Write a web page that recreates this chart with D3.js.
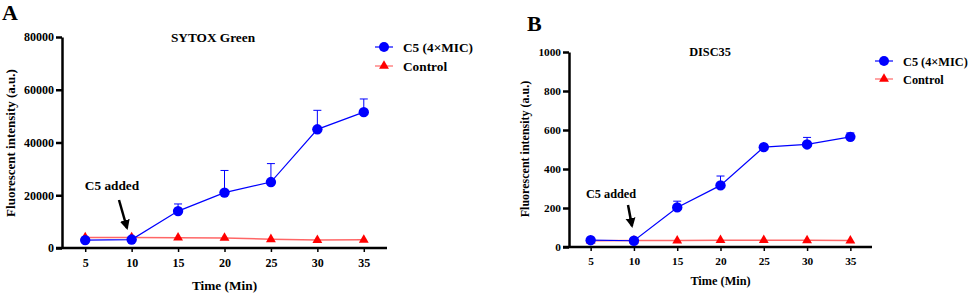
<!DOCTYPE html>
<html>
<head>
<meta charset="utf-8">
<script src="https://cdn.jsdelivr.net/npm/d3@7"></script>
<style>
  body { margin: 0; background: #ffffff; }
  svg text { font-family: "Liberation Serif", "Times New Roman", serif; font-weight: bold; fill: #000; }
</style>
</head>
<body>
<svg width="969" height="293"></svg>
<script>
// Data
const times = [5, 10, 15, 20, 25, 30, 35];
const xTicks = [5, 10, 15, 20, 25, 30, 35];

const sytoxC5 = [3000, 3200, 14000, 21000, 25000, 45000, 51500];
const sytoxC5Err = [300, 300, 2700, 8400, 7000, 7200, 5000];
const sytoxControl = [4000, 4000, 3900, 3800, 3300, 3000, 3100];
const sytoxTicks = [0, 20000, 40000, 60000, 80000];

const discC5 = [35, 32, 203, 316, 512, 526, 565];
const discC5Err = [3, 3, 32, 48, 4, 36, 20];
const discControl = [32, 33, 33, 35, 35, 34, 33];
const discTicks = [0, 200, 400, 600, 800, 1000];

const seriesNames = ["C5 (4\u00d7MIC)", "Control"];
const blue = "#0000ff", red = "#ff0000";

const svg = d3.select("svg");

// arrow head marker
svg.append("defs").append("marker")
    .attr("id", "arrowhead")
    .attr("viewBox", "0 0 10 10")
    .attr("refX", 8).attr("refY", 5)
    .attr("markerWidth", 4).attr("markerHeight", 5)
    .attr("markerUnits", "strokeWidth")
    .attr("orient", "auto")
  .append("path")
    .attr("d", "M0,0 L10,5 L0,10 z")
    .attr("fill", "#000");

function drawPanel(p) {
    const x = d3.scaleLinear().domain([2.5, 37.5]).range([p.left, p.right]);
    const y = d3.scaleLinear().domain([0, p.yMax]).range([p.bottom, p.top]);
    const fs = p.fs; // base font size for this panel

    // panel letter
    svg.append("text")
        .attr("x", p.letterX).attr("y", p.letterY)
        .style("font-size", "22px")
        .text(p.letter);

    // title
    svg.append("text")
        .attr("x", p.titleX).attr("y", p.titleY)
        .attr("text-anchor", "middle")
        .style("font-size", fs + "px")
        .text(p.title);

    // y axis
    const yAxis = svg.append("g")
        .attr("transform", `translate(${p.left},0)`)
        .call(d3.axisLeft(y).tickValues(p.yTicks).tickFormat(d3.format("d")).tickSize(6).tickSizeOuter(0));
    yAxis.select(".domain").attr("stroke-width", 2.5).attr("stroke", "#000");
    yAxis.selectAll(".tick line").attr("stroke-width", 2.5).attr("stroke", "#000");
    yAxis.selectAll(".tick text")
        .attr("x", -8)
        .style("font-family", '"Liberation Serif", serif')
        .style("font-weight", "bold")
        .style("font-size", p.tickFs + "px");

    // x axis
    const xAxis = svg.append("g")
        .attr("transform", `translate(0,${p.bottom})`)
        .call(d3.axisBottom(x).tickValues(xTicks).tickSize(4).tickSizeOuter(0));
    xAxis.select(".domain").attr("stroke-width", 2.5).attr("stroke", "#000")
        .attr("d", `M${p.left - 6},0H${p.right}`);
    xAxis.selectAll(".tick line").attr("stroke-width", 1.5).attr("stroke", "#000");
    xAxis.selectAll(".tick text")
        .attr("y", 10)
        .style("font-family", '"Liberation Serif", serif')
        .style("font-weight", "bold")
        .style("font-size", p.tickFs + "px");

    // axis titles
    svg.append("text")
        .attr("x", (p.left + p.right) / 2)
        .attr("y", p.xTitleY)
        .attr("text-anchor", "middle")
        .style("font-size", fs + "px")
        .text("Time (Min)");

    svg.append("text")
        .attr("transform", `translate(${p.yTitleX},${p.yTitleY}) rotate(-90)`)
        .attr("text-anchor", "middle")
        .style("font-size", (fs - 0.3) + "px")
        .text("Fluorescent intensity (a.u.)");

    const line = d3.line().x((d, i) => x(times[i])).y(d => y(d));

    // control series
    svg.append("path")
        .datum(p.control)
        .attr("d", line)
        .attr("fill", "none")
        .attr("stroke", red)
        .attr("stroke-opacity", 0.6)
        .attr("stroke-width", 1.5);

    // C5 error bars (upper only)
    const eb = svg.append("g").attr("stroke", blue).attr("stroke-width", 1);
    p.c5.forEach((v, i) => {
        const cx = x(times[i]);
        eb.append("line")
            .attr("x1", cx).attr("x2", cx)
            .attr("y1", y(v)).attr("y2", y(v + p.c5Err[i]));
        eb.append("line")
            .attr("x1", cx - 4).attr("x2", cx + 4)
            .attr("y1", y(v + p.c5Err[i])).attr("y2", y(v + p.c5Err[i]));
    });

    svg.append("path")
        .datum(p.c5)
        .attr("d", line)
        .attr("fill", "none")
        .attr("stroke", blue)
        .attr("stroke-width", 1.2);

    const tri = d3.symbol().type(d3.symbolTriangle).size(42);
    svg.selectAll(null)
        .data(p.control)
        .enter().append("path")
        .attr("d", tri)
        .attr("transform", (d, i) => `translate(${x(times[i])},${y(d)})`)
        .attr("fill", red);

    svg.selectAll(null)
        .data(p.c5)
        .enter().append("circle")
        .attr("cx", (d, i) => x(times[i]))
        .attr("cy", d => y(d))
        .attr("r", 5.2)
        .attr("fill", blue);

    // annotation
    svg.append("text")
        .attr("x", p.noteX).attr("y", p.noteY)
        .attr("text-anchor", "middle")
        .style("font-size", fs + "px")
        .text("C5 added");
    svg.append("line")
        .attr("x1", p.arrow[0]).attr("y1", p.arrow[1])
        .attr("x2", p.arrow[2]).attr("y2", p.arrow[3])
        .attr("stroke", "#000")
        .attr("stroke-width", 2.5)
        .attr("marker-end", "url(#arrowhead)");

    // legend
    const leg = svg.append("g").attr("transform", `translate(${p.legX},${p.legY})`);
    [blue, red].forEach((c, i) => {
        const g = leg.append("g").attr("transform", `translate(0,${i * p.rowGap})`);
        g.append("line").attr("x1", -9).attr("x2", 9).attr("y1", 0).attr("y2", 0)
            .attr("stroke", c).attr("stroke-width", 1.2).attr("stroke-opacity", i ? 0.6 : 1);
        if (i === 0) g.append("circle").attr("r", 5).attr("fill", c);
        else g.append("path").attr("d", tri).attr("fill", c);
        g.append("text").attr("x", 19).attr("y", 5)
            .style("font-size", fs + "px")
            .text(seriesNames[i]);
    });
}

drawPanel({
    letter: "A", letterX: 2, letterY: 20,
    title: "SYTOX Green", titleX: 213, titleY: 42,
    left: 62, right: 387, top: 37, bottom: 248,
    yMax: 80000, yTicks: sytoxTicks,
    c5: sytoxC5, c5Err: sytoxC5Err, control: sytoxControl,
    fs: 13.3, tickFs: 12,
    xTitleY: 290, yTitleX: 15, yTitleY: 143,
    noteX: 112, noteY: 190, arrow: [119, 200, 127, 228],
    legX: 384, legY: 47, rowGap: 19
});

drawPanel({
    letter: "B", letterX: 527, letterY: 31,
    title: "DISC35", titleX: 710, titleY: 56,
    left: 569, right: 872, top: 52, bottom: 247,
    yMax: 1000, yTicks: discTicks,
    c5: discC5, c5Err: discC5Err, control: discControl,
    fs: 12.3, tickFs: 11.3,
    xTitleY: 285, yTitleX: 529, yTitleY: 149,
    noteX: 611, noteY: 198, arrow: [628, 205, 632, 226],
    legX: 884, legY: 61, rowGap: 18
});
</script>
</body>
</html>
